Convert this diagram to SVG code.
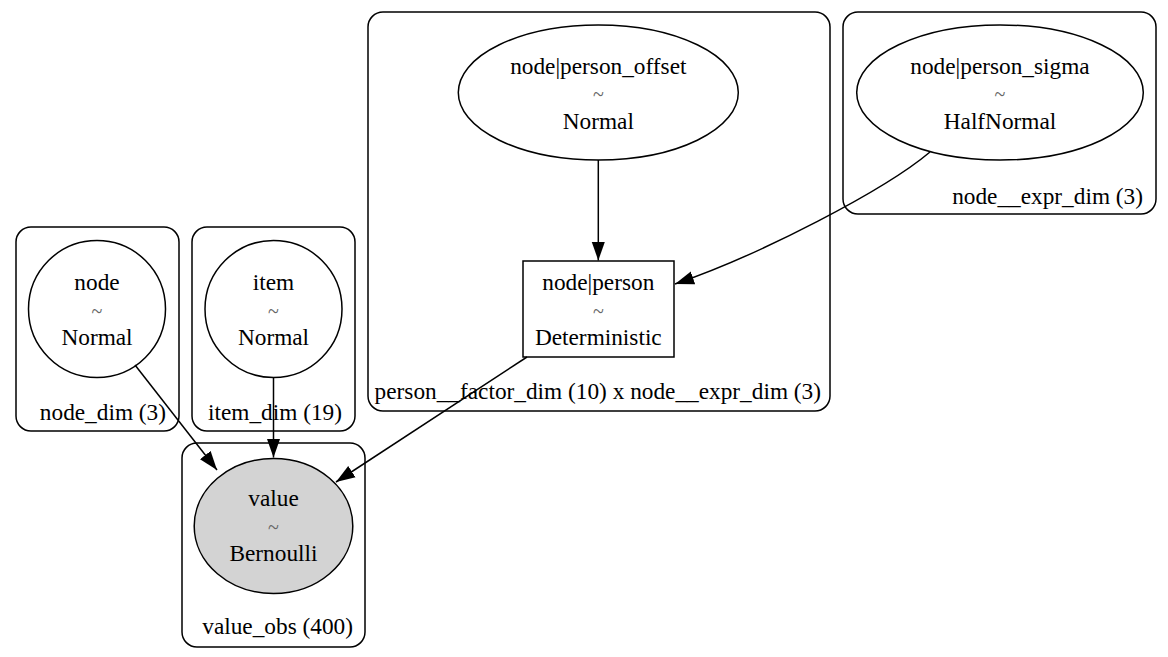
<svg xmlns="http://www.w3.org/2000/svg" width="1168" height="657" viewBox="0 0 1168 657">
<style>
.cl{fill:none;stroke:#000;stroke-width:1.5}
.nd{fill:#fff;stroke:#000;stroke-width:1.5}
.obs{fill:#d3d3d3;stroke:#000;stroke-width:1.5}
text{font-family:"Liberation Serif","Times New Roman",serif;font-size:23.3px;fill:#000}
.c{text-anchor:middle}
.r{text-anchor:end}
.t{fill:#666;font-size:20px}
.e{fill:none;stroke:#000;stroke-width:1.5}
</style>
<defs>
<marker id="ah" markerWidth="20" markerHeight="14" refX="19" refY="7" orient="auto" markerUnits="userSpaceOnUse">
<path d="M0,0.3 L19,7 L0,13.7 z" fill="#000"/>
</marker>
</defs>
<rect width="1168" height="657" fill="#fff"/>
<g id="clusters">
<rect id="cluster_node_dim" class="cl" x="16" y="227" width="163" height="204" rx="15"/>
<text class="r" x="166" y="420">node_dim (3)</text>
<rect id="cluster_item_dim" class="cl" x="192" y="227" width="163" height="204" rx="15"/>
<text class="r" x="342" y="420">item_dim (19)</text>
<rect id="cluster_value_obs" class="cl" x="182" y="443" width="183" height="204" rx="15"/>
<text class="r" x="353" y="634">value_obs (400)</text>
<rect id="cluster_person" class="cl" x="368" y="12" width="462" height="399" rx="15"/>
<text class="r" x="821" y="399">person__factor_dim (10) x node__expr_dim (3)</text>
<rect id="cluster_expr" class="cl" x="843" y="12" width="313" height="202" rx="15"/>
<text class="r" x="1143" y="204">node__expr_dim (3)</text>
</g>
<g id="node">
<circle class="nd" cx="97" cy="309" r="68.5"/>
<text class="c" x="97" y="290">node</text>
<text class="c t" x="97" y="317.5">~</text>
<text class="c" x="97" y="345">Normal</text>
</g>
<g id="item">
<circle class="nd" cx="273.5" cy="309" r="68.5"/>
<text class="c" x="273.5" y="290">item</text>
<text class="c t" x="273.5" y="317.5">~</text>
<text class="c" x="273.5" y="345">Normal</text>
</g>
<g id="value">
<ellipse class="obs" cx="273.5" cy="526" rx="79.3" ry="67.5"/>
<text class="c" x="273.5" y="506">value</text>
<text class="c t" x="273.5" y="533.5">~</text>
<text class="c" x="273.5" y="561">Bernoulli</text>
</g>
<g id="person_offset">
<ellipse class="nd" cx="598.3" cy="92.5" rx="140" ry="67.5"/>
<text class="c" x="598.3" y="74">node|person_offset</text>
<text class="c t" x="598.3" y="101.3">~</text>
<text class="c" x="598.3" y="128.8">Normal</text>
</g>
<g id="person_sigma">
<ellipse class="nd" cx="1000" cy="92.5" rx="143.3" ry="67.5"/>
<text class="c" x="1000" y="74">node|person_sigma</text>
<text class="c t" x="1000" y="101.3">~</text>
<text class="c" x="1000" y="128.8">HalfNormal</text>
</g>
<g id="node_person">
<rect class="nd" x="523" y="261" width="151" height="96"/>
<text class="c" x="598.3" y="290">node|person</text>
<text class="c t" x="598.3" y="317.5">~</text>
<text class="c" x="598.3" y="345">Deterministic</text>
</g>
<g id="connectors">
<path class="e" d="M598.3,160 L598.3,260.5" marker-end="url(#ah)"/>
<path class="e" d="M930,152 C885,190 760,255 675,284" marker-end="url(#ah)"/>
<path class="e" d="M527,357 L336,482" marker-end="url(#ah)"/>
<path class="e" d="M135,365 L217,470" marker-end="url(#ah)"/>
<path class="e" d="M273.5,377.5 L273.5,457.5" marker-end="url(#ah)"/>
</g>
</svg>
